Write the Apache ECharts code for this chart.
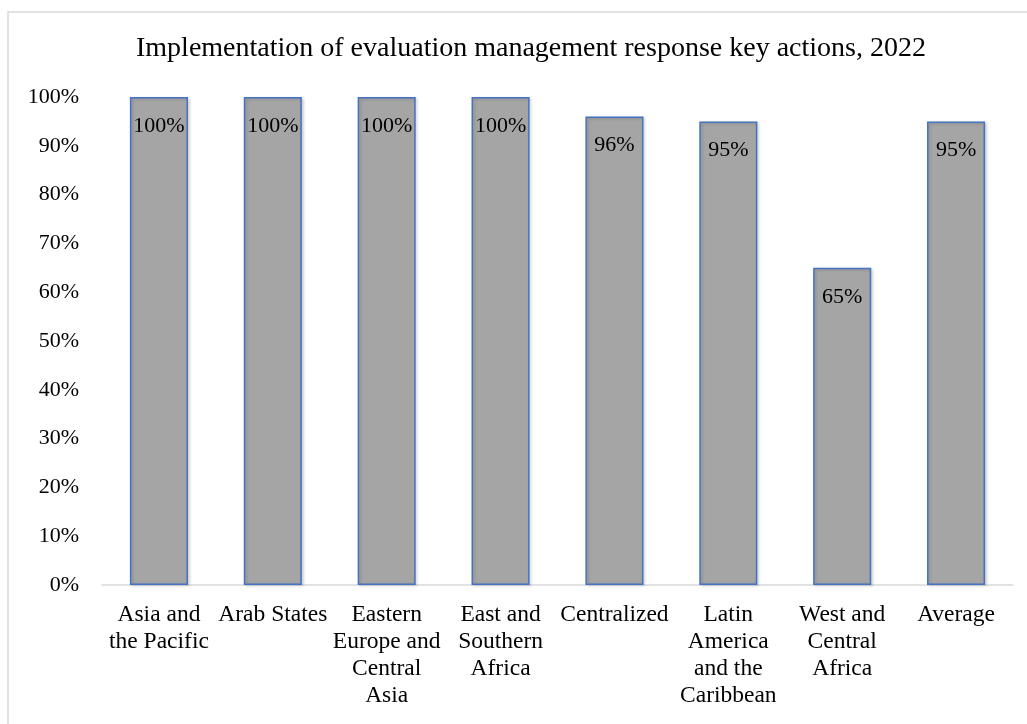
<!DOCTYPE html>
<html>
<head>
<meta charset="utf-8">
<script src="https://cdn.jsdelivr.net/npm/echarts@6/dist/echarts.min.js"></script>
<style>
  html, body { margin: 0; padding: 0; background: #fff; }
  #chart { width: 1027px; height: 724px; }
</style>
</head>
<body>
<div id="chart"></div>
<script>
// categories (line breaks as in the original)
const regions = [
  'Asia and\nthe Pacific',
  'Arab States',
  'Eastern\nEurope and\nCentral\nAsia',
  'East and\nSouthern\nAfrica',
  'Centralized',
  'Latin\nAmerica\nand the\nCaribbean',
  'West and\nCentral\nAfrica',
  'Average'
];
// implementation rate, %
const implemented = [100, 100, 100, 100, 96, 95, 65, 95];

const serif = '"Liberation Serif", "Times New Roman", serif';

const chart = echarts.init(document.getElementById('chart'));

const option = {
  backgroundColor: '#fff',
  animation: false,
  title: {
    text: 'Implementation of evaluation management response key actions, 2022',
    left: 131,
    top: 30,
    textStyle: { fontFamily: serif, fontSize: 28, fontWeight: 'normal', color: '#000' }
  },
  graphic: [{
    type: 'rect',
    shape: { x: 8, y: 12, width: 1040, height: 740 },
    style: { fill: 'none', stroke: '#d9d9d9', lineWidth: 1.5 },
    silent: true
  }],
  grid: { left: 102, right: 14, top: 97, bottom: 139 },
  xAxis: {
    type: 'category',
    data: regions,
    axisLine: { lineStyle: { color: '#d9d9d9', width: 1.5 } },
    axisTick: { show: false },
    axisLabel: {
      interval: 0,
      margin: 16,
      color: '#000',
      fontFamily: serif,
      fontSize: 23.5,
      lineHeight: 27,
      align: 'center'
    }
  },
  yAxis: {
    type: 'value',
    min: 0,
    max: 100,
    interval: 10,
    axisLine: { show: false },
    axisTick: { show: false },
    splitLine: { show: false },
    axisLabel: {
      formatter: '{value}%',
      margin: 23,
      color: '#000',
      fontFamily: serif,
      fontSize: 22
    }
  },
  series: [{
    type: 'bar',
    data: implemented,
    barWidth: '51%',
    itemStyle: {
      color: '#a5a5a5',
      borderColor: '#4472c4',
      borderWidth: 1.5,
      shadowColor: 'rgba(0,0,0,0.18)',
      shadowBlur: 3,
      shadowOffsetX: 1.5,
      shadowOffsetY: 1
    },
    label: {
      show: true,
      position: 'insideTop',
      distance: 18,
      formatter: '{c}%',
      color: '#000',
      fontFamily: serif,
      fontSize: 22
    }
  }]
};

chart.setOption(option);
</script>
</body>
</html>
